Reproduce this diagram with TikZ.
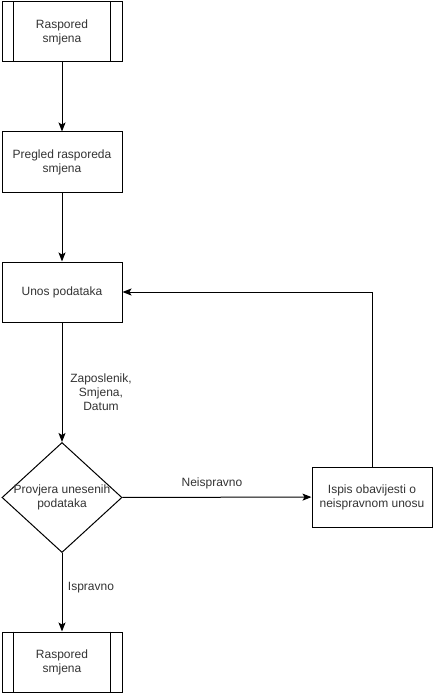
\documentclass[tikz,border=0pt]{standalone}
\usepackage{fontspec}
\setmainfont{Liberation Sans}
\usetikzlibrary{arrows.meta,shapes.geometric}
\begin{document}
\begin{tikzpicture}[x=1pt,y=-1pt,
  every node/.style={font=\fontsize{12}{14}\selectfont, text=black!80, align=center},
  box/.style={draw, line width=1pt, minimum width=120pt, minimum height=60pt, inner sep=0pt},
  subproc/.style={box},
  decision/.style={draw, line width=1pt, diamond, minimum width=120pt, minimum height=110pt, inner sep=0pt, aspect=1.09},
  conn/.style={line width=1pt, -{Stealth[length=9pt,width=7pt,inset=2pt]}},
  lbl/.style={fill=white, inner sep=1pt}
]
\useasboundingbox (0,0) rectangle (435,695);
\node[subproc] (s1) at (62,32) {Raspored\\smjena};
\draw[line width=1pt] ([xshift=12pt]s1.north west) -- ([xshift=12pt]s1.south west)
      ([xshift=-12pt]s1.north east) -- ([xshift=-12pt]s1.south east);
\node[box] (p1) at (62,162) {Pregled rasporeda\\smjena};
\node[box] (p2) at (62,292) {Unos podataka};
\node[decision] (d) at (62,497.5) {};
\node (dt) at (62,497.5) {Provjera unesenih\\podataka};
\node[box] (e) at (372,497) {Ispis obavijesti o\\neispravnom unosu};
\node[subproc] (s2) at (62,662) {Raspored\\smjena};
\draw[line width=1pt] ([xshift=12pt]s2.north west) -- ([xshift=12pt]s2.south west)
      ([xshift=-12pt]s2.north east) -- ([xshift=-12pt]s2.south east);
\coordinate (c1) at (372,292);
\draw[conn] (s1) -- (p1);
\draw[conn] (p1) -- (p2);
\draw[conn] (p2) -- (d);
\draw[conn] (d) -- (e);
\draw[conn] (d) -- (s2);
\draw[conn] (e.north) -- (c1) -- (p2.east);
\node (l1) at (101,392) {Zaposlenik,\\Smjena,\\Datum};
\node (l2) at (212,483) {Neispravno};
\node (l3) at (91,588) {Ispravno};
\end{tikzpicture}
\end{document}
